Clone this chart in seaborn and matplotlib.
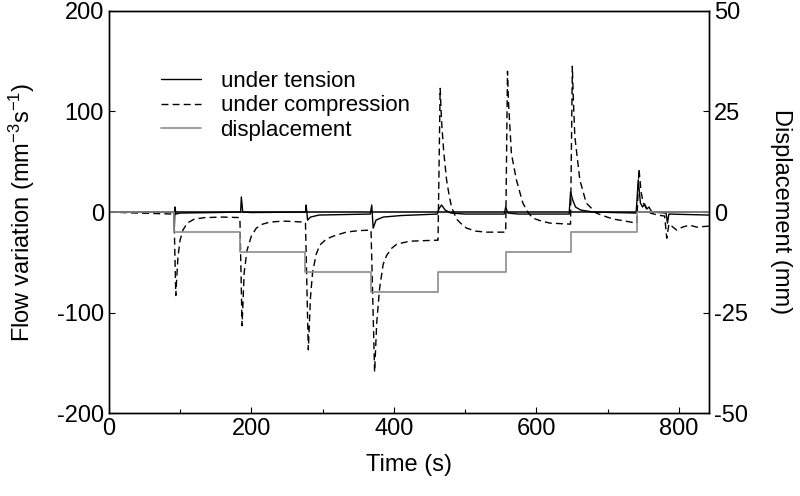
import numpy as np
import pandas as pd
import matplotlib
matplotlib.use("Agg")
import matplotlib.pyplot as plt
import seaborn as sns
from matplotlib.ticker import MultipleLocator

# under tension: (time s, flow variation)
t_tension = [0, 91, 92, 93, 94, 100, 150, 185, 186, 188, 200, 276, 277, 279, 283, 295,
             330, 367, 369, 371, 375, 385, 410, 461, 463, 467, 472, 480, 500, 555, 557,
             560, 575, 646, 648, 651, 655, 662, 680, 740, 743, 746, 749, 752, 755, 758,
             762, 782, 784, 786, 842]
flow_tension = [0, 0, -15, 5, -2, -1, -0.5, 0, 15, 0, -0.5, 0, 7, -8, -5, -3,
                -2.5, -2, 7, -16, -8, -5, -3.5, -2, 3, 7, 2, -1, -2, -2, 5,
                -1, -2, -2, 20, 12, 5, 2, 0, -1, 32, 9, 5, 8, 3, 5,
                0, -1, -11, -2, -3]

# under compression
t_comp = [0, 40, 91.5, 94, 97, 100, 104, 110, 120, 135, 160, 183,
          184, 187, 190, 194, 200, 207, 216, 226, 245, 275,
          276, 280, 283, 286, 291, 296, 305, 315, 333, 350, 367,
          368, 373, 376, 380, 385, 390, 397, 404, 422, 440, 461,
          462, 465, 467, 470, 474, 478, 481, 488, 495, 502, 515, 530, 556,
          557, 559.5, 561, 565, 572, 581, 588, 595, 607, 619, 647,
          648, 650.5, 652, 654, 661, 670, 684, 695, 708, 725, 740,
          741, 744, 747, 750, 755, 760, 770, 780, 783, 786, 790, 797, 805, 815, 825, 842]
flow_comp = [0, -1, -2, -83, -45, -28, -18, -11, -7, -5.5, -5, -5.5,
             -6, -113, -60, -38, -24, -16, -12, -10, -9, -10,
             -11, -137, -85, -60, -42, -33, -27, -24, -20, -18.5, -18,
             -18, -159, -110, -76, -52, -43, -36, -32, -29, -28.5, -28,
             -28, 123, 90, 60, 32, 15, 5, -7, -12, -16, -19, -20, -20,
             -20, 140, 108, 58, 32, 9, 0, -6, -9, -11, -12,
             -12, 145, 110, 75, 32, 9, -1, -4, -7, -9, -11,
             -11, 43, 20, 9, 3, -1, -3, -4, -26, -12, -14, -18, -15, -13, -15, -14]

# displacement steps (mm)
t_disp = [0, 92, 184, 276, 368, 462, 557, 648, 741, 842]
disp = [0, -5, -10, -15, -20, -15, -10, -5, 0, 0]

sns.set_style("ticks")
plt.rcParams['font.family'] = ['Liberation Sans', 'DejaVu Sans']
plt.rcParams['mathtext.default'] = 'regular'
plt.rcParams['axes.unicode_minus'] = False
plt.rcParams['text.color'] = 'black'
plt.rcParams['axes.labelcolor'] = 'black'
plt.rcParams['xtick.color'] = 'black'
plt.rcParams['ytick.color'] = 'black'

fig = plt.figure(figsize=(8, 4.96), dpi=100)
ax = fig.add_axes([0.136, 0.167, 0.75, 0.811])
ax2 = ax.twinx()

ax.axhline(0, color='0.15', lw=1.3, zorder=1)
sns.lineplot(x=t_tension, y=flow_tension, ax=ax, color='black', lw=1.0,
             label='under tension', legend=False)
sns.lineplot(x=t_comp, y=flow_comp, ax=ax, color='black', lw=1.0,
             dashes=False, linestyle=(0, (5, 3)), label='under compression', legend=False)
sns.lineplot(x=t_disp, y=disp, ax=ax2, color='0.55', lw=1.2,
             drawstyle='steps-post', label='displacement', legend=False)

ax.set_xlim(0, 842)
ax.set_ylim(-200, 200)
ax2.set_ylim(-50, 50)
ax.xaxis.set_major_locator(MultipleLocator(200))
ax.xaxis.set_minor_locator(MultipleLocator(100))
ax.yaxis.set_major_locator(MultipleLocator(100))
ax2.yaxis.set_major_locator(MultipleLocator(25))

for a in (ax, ax2):
    a.tick_params(which='both', direction='in', labelsize=17, width=0.8, colors='black')
    a.tick_params(which='major', length=4)
    a.tick_params(which='minor', length=3)
    for s in a.spines.values():
        s.set_linewidth(1.0)
        s.set_color('black')

ax.set_xlabel('Time (s)', fontsize=17, labelpad=10)
ax.set_ylabel('Flow variation (mm$^{-3}$s$^{-1}$)', fontsize=17, labelpad=14)
ax2.set_ylabel('Displacement (mm)', fontsize=17, rotation=270, labelpad=32)

h1, l1 = ax.get_legend_handles_labels()
h2, l2 = ax2.get_legend_handles_labels()
leg = ax.legend(h1 + h2, l1 + l2, loc='upper left', bbox_to_anchor=(0.053, 0.9),
                frameon=False, fontsize=16, handlelength=1.8, handletextpad=0.9,
                labelspacing=0.15)

fig.savefig('out.png', dpi=100)
